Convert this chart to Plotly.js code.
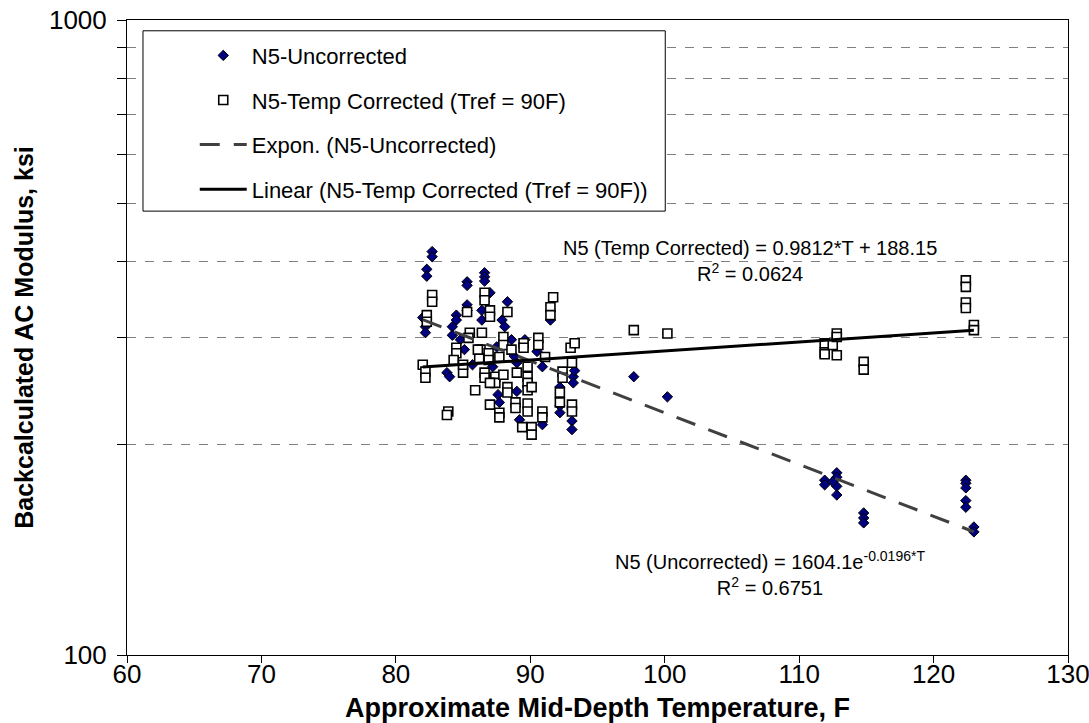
<!DOCTYPE html>
<html>
<head>
<meta charset="utf-8">
<script src="https://cdn.plot.ly/plotly-3.0.1.min.js"></script>
<style>html,body{margin:0;padding:0;background:#fff;}#chart{width:1089px;height:723px;}</style>
</head>
<body>
<div id="chart"></div>
<script>
// ---- Data ----
const xUncorrected = [82.7,82.7,82.3,82.3,85.3,85.3,86.6,86.6,86.6,88.3,87.0,82.0,82.2,82.2,84.2,84.2,84.5,84.5,85.3,85.3,86.4,86.4,87.9,88.1,91.5,89.6,88.6,83.8,84.0,87.6,87.7,89.2,90.9,93.1,93.1,92.2,92.2,92.2,93.2,93.2,93.3,90.9,89.0,85.7,87.2,89.0,84.8,85.1,87.5,88.8,90.5,
  97.7,100.2,111.9,111.9,112.8,112.8,112.8,112.8,112.5,114.8,114.8,114.8,122.4,122.4,122.4,122.4,122.4,123.0,123.0];
const yUncorrected = [416,408,389,379,371,366,384,378,372,344,356,324,313,306,313,303,327,321,340,333,333,321,321,313,321,298,298,263,259,242,235,220,216,219,212,226,232,249,259,253,265,269,273,271,269,245,298,287,290,280,285,
  259,240,175,172,180,177,171,165.5,174,154.6,151.7,148.9,175,173,170,162,158,146.6,143.9];

const xCorrected = [82.7,82.7,82.3,82.3,82.0,82.2,82.2,83.9,83.8,85.9,87.0,86.6,86.6,87.0,87.0,85.3,88.3,91.7,91.5,91.5,84.5,84.5,84.3,85.0,85.0,85.5,86.4,86.3,86.9,86.9,88.0,88.0,87.7,88.6,89.5,89.5,90.6,90.6,91.1,86.6,86.6,87.4,87.4,88.0,89.0,89.8,89.8,89.8,89.8,90.1,88.3,88.3,87.0,88.9,88.9,89.8,89.8,87.7,87.7,89.4,90.1,90.1,90.9,90.9,92.2,92.2,93.1,93.1,92.4,92.4,93.1,93.0,93.3,85.4,86.2,86.1,
  97.7,100.2,111.9,111.9,111.9,112.5,112.8,112.8,112.8,114.8,114.8,122.4,122.4,122.4,122.4,123.0,123.0];
const yCorrected = [353,344,327,319,271,264,258,227,224,246,233,356,346,333,325,331,331,350,337,327,289,283,276,263,271,306,306,287,283,276,301,292,279,287,294,289,300,292,279,263,258,259,253,261,263,269,259,253,246,249,249,244,253,235,230,234,227,226,222,214,214,208,227,222,244,235,233,227,264,258,273,289,294,300,278,287,
  309,305,294,284,282,292,305,301,281,274,266,373,364,343,336,315,309];

// Trendline coefficients as printed on the chart
const expA = 1604.1, expB = -0.0196;            // N5 (Uncorrected) = 1604.1 e^(-0.0196*T)
const linSlope = 0.9812, linIntercept = 188.15; // N5 (Temp Corrected) = 0.9812*T + 188.15

const seriesNames = ["N5-Uncorrected", "N5-Temp Corrected (Tref = 90F)", "Expon. (N5-Uncorrected)", "Linear (N5-Temp Corrected (Tref = 90F))"];
const xTickVals = [60,70,80,90,100,110,120,130];
const yGridVals = [200,300,400,500,600,700,800,900];
const yLabelText = ["100","1000"];
const eqText1 = ["N5 (Temp Corrected) = 0.9812*T + 188.15", "R<sup>2</sup> = 0.0624"];
const eqText2 = ["N5 (Uncorrected) = 1604.1e<sup>-0.0196*T</sup>", "R<sup>2</sup> = 0.6751"];

// ---- Trendlines from coefficients ----
function linspace(a,b,n){const r=[];for(let i=0;i<n;i++)r.push(a+(b-a)*i/(n-1));return r;}
const tMinU = Math.min(...xUncorrected), tMaxU = Math.max(...xUncorrected);
const tMinC = Math.min(...xCorrected), tMaxC = Math.max(...xCorrected);
const xExp = linspace(tMinU, tMaxU, 40);
const yExp = xExp.map(t => expA*Math.exp(expB*t));
const xLin = [tMinC, tMaxC];
const yLin = xLin.map(t => linSlope*t + linIntercept);

const FONT = "Liberation Sans, Arial, sans-serif";

const traces = [
  {x:xUncorrected, y:yUncorrected, type:'scatter', mode:'markers', name:seriesNames[0], legendgroup:'a',
   marker:{symbol:'diamond', size:8, color:'#000080', line:{color:'#000000', width:1}}},
  {x:xCorrected, y:yCorrected, type:'scatter', mode:'markers', name:seriesNames[1], legendgroup:'b',
   marker:{symbol:'square', size:9, color:'#ffffff', line:{color:'#000000', width:1.6}}},
  {x:xExp, y:yExp, type:'scatter', mode:'lines', name:seriesNames[2], legendgroup:'c',
   line:{color:'#404040', width:3, dash:'20px,14px'}},
  {x:xLin, y:yLin, type:'scatter', mode:'lines', name:seriesNames[3], legendgroup:'d',
   line:{color:'#000000', width:3}}
];

const yLow = 3 - 635/608; // bottom of the drawn log axis
const yTickVals = [Math.pow(10,yLow), 1000];

const layout = {
  width:1089, height:723,
  margin:{l:127, r:21, t:20, b:68, pad:0},
  paper_bgcolor:'#ffffff', plot_bgcolor:'#ffffff',
  font:{family:FONT, color:'#000000'},
  showlegend:true,
  xaxis:{range:[60,130], tickvals:xTickVals, ticks:'outside', ticklen:7, tickcolor:'#000',
    showline:true, linecolor:'#000', linewidth:1, mirror:true, showgrid:false, zeroline:false,
    tickfont:{size:26, family:FONT}, ticklabeloverflow:'allow', ticklabelstandoff:-11,
    title:{text:'Approximate Mid-Depth Temperature, F', font:{size:27, family:FONT, weight:'bold'}, standoff:16}},
  yaxis:{type:'log', range:[yLow,3], tickvals:yTickVals, ticktext:yLabelText,
    ticks:'outside', ticklen:9, tickcolor:'#000', ticklabelstandoff:5, ticklabeloverflow:'allow',
    showline:true, linecolor:'#000', linewidth:1, mirror:true, showgrid:false, zeroline:false,
    minor:{tickvals:yGridVals, ticks:'outside', ticklen:9, tickcolor:'#000',
      showgrid:true, gridcolor:'#808080', gridwidth:1, griddash:'dash'},
    tickfont:{size:26, family:FONT},
    title:{text:'Backcalculated AC Modulus, ksi', font:{size:25, family:FONT, weight:'bold'}, standoff:8}},
  legend:{x:0.072, y:0.977, xanchor:'left', yanchor:'top', bgcolor:'rgba(0,0,0,0)', borderwidth:0,
    font:{size:22, family:FONT}, itemwidth:47, traceorder:'grouped', tracegroupgap:13},
  shapes:[{type:'rect', xref:'paper', yref:'paper', x0:0.017, x1:0.572, y0:0.699, y1:0.983,
    line:{color:'#000', width:1}, fillcolor:'#ffffff', layer:'above'}],
  annotations:[
    {xref:'paper', yref:'paper', x:0.662, y:0.620, xanchor:'center', yanchor:'middle',
     text:eqText1.join('<br>'), showarrow:false, align:'center', font:{size:20, family:FONT}},
    {xref:'paper', yref:'paper', x:0.683, y:0.129, xanchor:'center', yanchor:'middle',
     text:eqText2.join('<br>'), showarrow:false, align:'center', font:{size:20, family:FONT}}
  ]
};

Plotly.newPlot('chart', traces, layout, {displayModeBar:false, staticPlot:true});
</script>
</body>
</html>
